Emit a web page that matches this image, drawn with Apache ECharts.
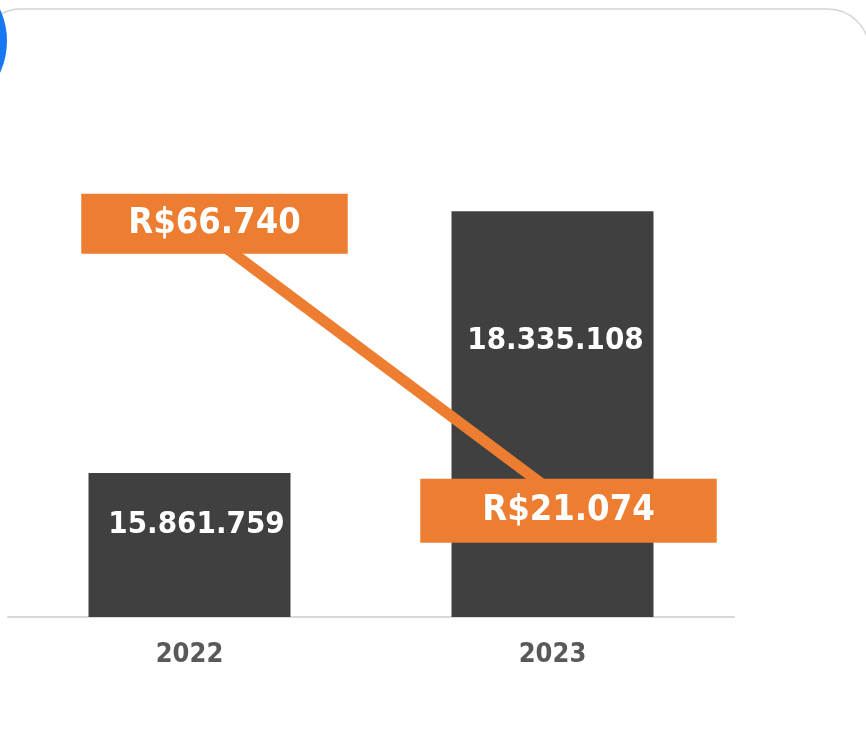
<!DOCTYPE html>
<html>
<head>
<meta charset="utf-8">
<script src="https://cdn.jsdelivr.net/npm/echarts@6/dist/echarts.min.js"></script>
<style>
  html, body { margin: 0; padding: 0; background: #fff; }
  #chart { width: 866px; height: 756px; }
</style>
</head>
<body>
<div id="chart"></div>
<script>
const years = ['2022', '2023'];
const volumes = [15861759, 18335108];
const prices = [66740, 21074];

// 15861759 -> "15.861.759"
const fmt = (n) => String(n).replace(/\B(?=(\d{3})+(?!\d))/g, '.');

const chart = echarts.init(document.getElementById('chart'));

const barLabelOffsets = [[7, -20], [3, -73]];
const priceLabelOffsets = [[25, 3], [16, 19]];
const priceLabelPadding = [[12, 47], [14, 62]];

const option = {
  animation: false,
  textStyle: { fontFamily: 'DejaVu Sans Condensed' },
  graphic: [
    {
      type: 'rect',
      z: -10,
      shape: { x: -20, y: 9, width: 889, height: 800, r: 41 },
      style: { fill: '#fff', stroke: '#d4d4d4', lineWidth: 1.5 },
    },
    {
      type: 'circle',
      z: -5,
      shape: { cx: -69, cy: 41, r: 76 },
      style: { fill: '#1877F2' },
    },
  ],
  grid: { left: 8, right: 132, top: 35, bottom: 139 },
  xAxis: {
    type: 'category',
    data: years,
    axisLine: { lineStyle: { color: '#d9d9d9', width: 2 } },
    axisTick: { show: false },
    axisLabel: {
      color: '#595959',
      fontWeight: 'bold',
      fontSize: 27,
      margin: 24,
    },
  },
  yAxis: [
    { type: 'value', min: 14500000, max: 20000000, show: false },
    { type: 'value', min: 0, max: 98000, show: false },
  ],
  series: [
    {
      name: 'Volume',
      type: 'bar',
      barWidth: 202,
      itemStyle: { color: '#404040' },
      data: volumes.map((v, i) => ({
        value: v,
        label: {
          show: true,
          position: 'inside',
          offset: barLabelOffsets[i],
          formatter: (p) => fmt(p.value),
          color: '#fff',
          fontWeight: 'bold',
          fontSize: 31,
        },
      })),
    },
    {
      name: 'Preço',
      type: 'line',
      yAxisIndex: 1,
      symbol: 'circle',
      symbolSize: 1,
      itemStyle: { color: '#ED7D31' },
      lineStyle: { color: '#ED7D31', width: 11 },
      data: prices.map((v, i) => ({
        value: v,
        label: {
          show: true,
          position: 'inside',
          offset: priceLabelOffsets[i],
          formatter: (p) => 'R$' + fmt(p.value),
          color: '#fff',
          fontWeight: 'bold',
          fontSize: 36,
          lineHeight: 36,
          backgroundColor: '#ED7D31',
          padding: priceLabelPadding[i],
        },
      })),
    },
  ],
};

chart.setOption(option);
</script>
</body>
</html>
